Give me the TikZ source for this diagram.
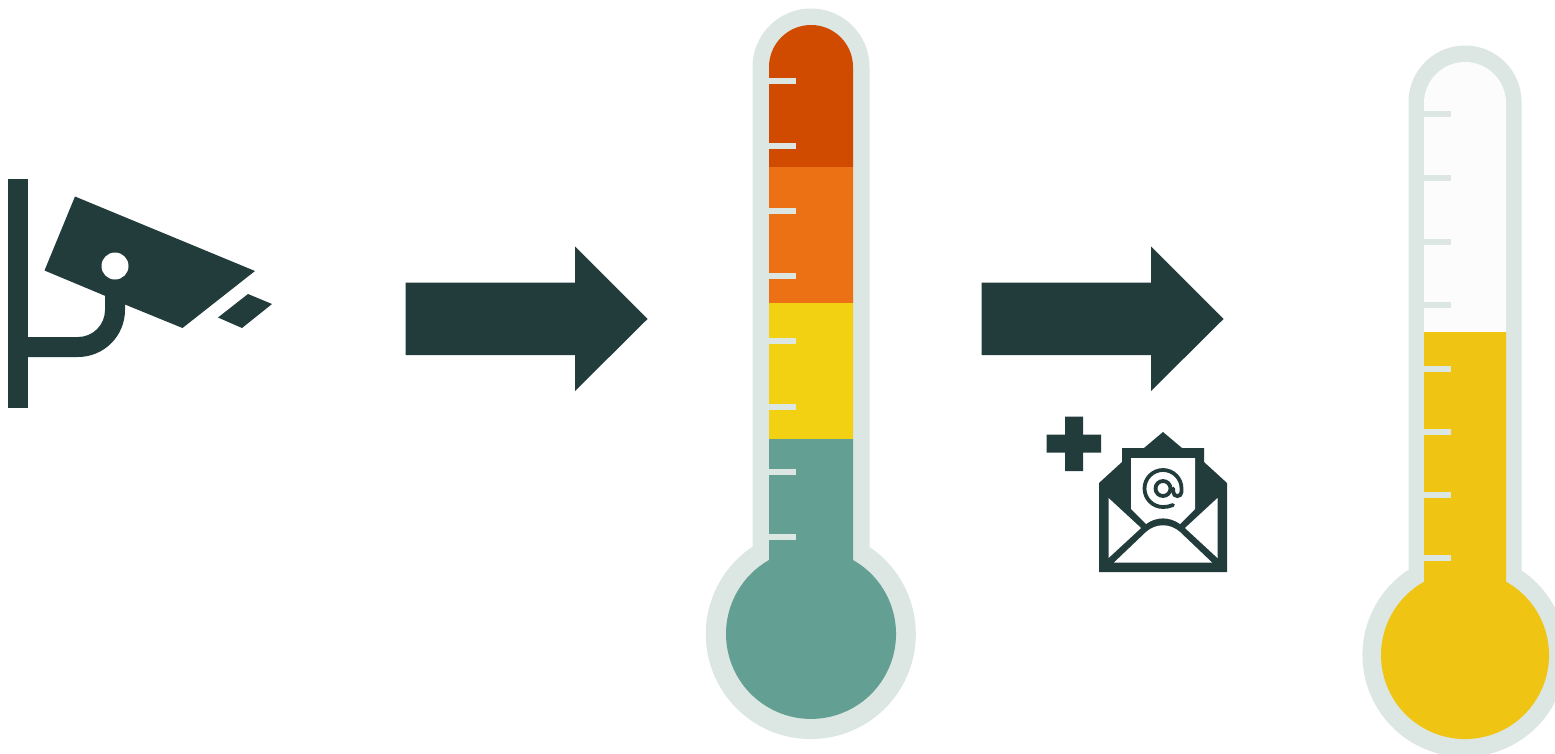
\documentclass[tikz,border=0pt]{standalone}
\definecolor{ink}{HTML}{223B3B}
\definecolor{glass}{HTML}{DCE6E3}
\definecolor{redband}{HTML}{D04A00}
\definecolor{orangeband}{HTML}{EC7014}
\definecolor{yellowband}{HTML}{F2D012}
\definecolor{tealband}{HTML}{639F93}
\definecolor{goldfill}{HTML}{EFC413}
\definecolor{emptyfill}{HTML}{FCFCFC}
\tikzset{
  solid ink/.style={fill=ink,draw=none},
  white part/.style={fill=white,draw=none},
  glass part/.style={fill=glass,draw=none},
  tick mark/.style={fill=glass,draw=none},
  at ring/.style={draw=ink,line width=3.8pt,line cap=round,fill=none}
}
\newcommand{\bigarrow}[2]{% left x, head x, tip is 73 further on
  \fill[solid ink] (#1,282.5) -- (#2,282.5) -- (#2,246.5) -- (#2+72.5,319) -- (#2,391) -- (#2,355) -- (#1,355) -- cycle;}
\begin{document}
\begin{tikzpicture}[x=1pt,y=1pt,yscale=-1]
\path[use as bounding box,clip] (0,0) rectangle (1555,753);
\fill[white] (0,0) rectangle (1555,753);

% camera
\fill[solid ink] (8,178.5) rectangle (28,408);
\fill[solid ink] (28,337) -- (78,337) arc (90:0:27) -- (105,292) -- (125,292) -- (125,310) arc (0:90:47) -- (28,357) -- cycle;
\fill[solid ink] (75,196.5) -- (255,271) -- (182.5,328) -- (125,304.5) -- (105.5,296) -- (44.5,270.5) -- cycle;
\fill[white part] (115,266) circle (13.5);
\fill[solid ink] (248,294) -- (272,304) -- (242,328) -- (218,317.5) -- cycle;

% arrows
\bigarrow{405.5}{575}
\bigarrow{981.5}{1151}

% middle thermometer
\fill[glass part] (752.5,547) -- (752.5,67) arc (180:360:58.5) -- (869.5,547) arc (-56:236:105) -- cycle;
\begin{scope}
\clip (769,560) -- (769,67) arc (180:360:42) -- (853,560) arc (-60.4:240.4:85) -- cycle;
\fill[redband] (760,20) rectangle (860,166.5);
\fill[orangeband] (760,166.5) rectangle (860,302.5);
\fill[yellowband] (760,302.5) rectangle (860,439);
\fill[tealband] (700,439) rectangle (920,725);
\end{scope}
\foreach \ty in {81,146,211,276,341,407,472,537}
  \fill[tick mark] (769,\ty-3) rectangle (796,\ty+3);

% right thermometer
\fill[glass part] (1408.5,570.4) -- (1408.5,102) arc (180:360:56.5) -- (1521.5,570.4) arc (-56:236:102) -- cycle;
\begin{scope}
\clip (1424,581.7) -- (1424,103) arc (180:360:41) -- (1506,581.7) arc (-60.8:240.8:84) -- cycle;
\fill[emptyfill] (1420,55) rectangle (1510,332);
\fill[goldfill] (1370,332) rectangle (1560,745);
\end{scope}
\foreach \ty in {114,178,242,305,369,432,495,558}
  \fill[tick mark] (1424,\ty-3) rectangle (1451,\ty+3);

% plus
\fill[solid ink] (1065,416.5) -- (1083,416.5) -- (1083,434.5) -- (1101,434.5) -- (1101,452.5) -- (1083,452.5) -- (1083,471) -- (1065,471) -- (1065,452.5) -- (1046.5,452.5) -- (1046.5,434.5) -- (1065,434.5) -- cycle;

% envelope
\fill[solid ink] (1099,483) -- (1122,462) -- (1122,448) -- (1144,448) -- (1163,432) -- (1182,448) -- (1204,448) -- (1204,462) -- (1227,483) -- (1227,572) -- (1099,572) -- cycle;
\fill[white part] (1131,458) -- (1195,458) -- (1195,509) -- (1180,524) .. controls (1170,516.5) and (1156,516.5) .. (1146,524) -- (1131,509) -- cycle;
\fill[white part] (1108.5,498) -- (1141,528) -- (1108.5,558) -- cycle;
\fill[white part] (1217.5,498) -- (1185,528) -- (1217.5,558) -- cycle;
\fill[white part] (1114,562.5) -- (1146,532) .. controls (1156,523) and (1170,523) .. (1180,532) -- (1212,562.5) -- cycle;

% at sign
\draw[at ring] (1163,488.5) circle (7.5);
\draw[at ring] (1173,505) .. controls (1170,506.5) and (1166.5,507) .. (1163,507)
  arc (90:360:18.5) -- (1181.5,492) arc (0:180:4.1) -- (1173.3,488.5);
\end{tikzpicture}
\end{document}
